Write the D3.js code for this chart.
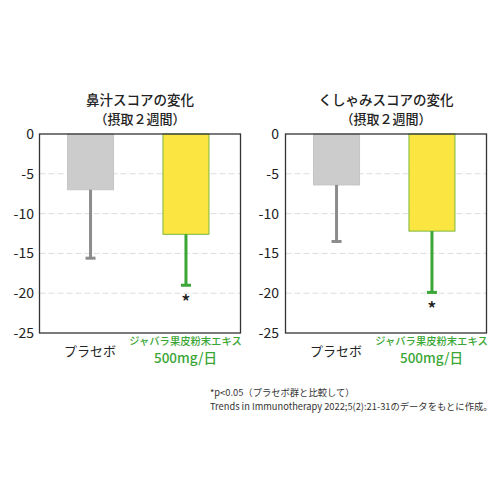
<!DOCTYPE html>
<html><head><meta charset="utf-8">
<script src="https://cdn.jsdelivr.net/npm/d3@7"></script>
<style>
html,body{margin:0;padding:0;background:#fff;}
text{font-family:"Noto Sans CJK JP","Noto Sans",sans-serif;}
</style></head>
<body><svg id="c" width="500" height="500"></svg>
<script>
const categories = ["プラセボ", "ジャバラ果皮粉末エキス"];
const doseLabel = "500mg/日";
const titles1 = ["鼻汁スコアの変化", "（摂取２週間）"];
const titles2 = ["くしゃみスコアの変化", "（摂取２週間）"];
const noseMeans = [-7.0, -12.6];
const noseErrors = [-15.6, -19.0];
const sneezeMeans = [-6.4, -12.2];
const sneezeErrors = [-13.5, -19.9];
const yTicks = [0, -5, -10, -15, -20, -25];
const significant = [false, true];
const footnotes = ["*p<0.05（プラセボ群と比較して）", "Trends in Immunotherapy 2022;5(2):21-31のデータをもとに作成。"];

const svg = d3.select("#c");
svg.append("rect").attr("width",500).attr("height",500).attr("fill","#fff");

const barFill = ["#cccccc", "#fbe641"];
const barStroke = ["#c4c4c4", "#7cb83c"];
const errColor = ["#8c8c8c", "#3aa635"];
const green = "#3aa635";

function panel(x0, x1, titles, means, errs, tickX) {
  const g = svg.append("g");
  const y = d3.scaleLinear().domain([0, -25]).range([134, 333]);
  const x = d3.scaleBand().domain(categories).range([x0 + 18, x0 + 178.5]).paddingInner(0.518).paddingOuter(0.1);
  // grid
  g.selectAll(".grid").data(yTicks.filter(t => t !== 0 && t !== -25)).enter().append("line")
    .attr("x1", x0).attr("x2", x1).attr("y1", d => y(d)).attr("y2", d => y(d))
    .attr("stroke", "#dcdcdc").attr("stroke-width", 1).attr("stroke-dasharray", "6,3");
  // bars
  g.selectAll(".bar").data(means).enter().append("rect")
    .attr("x", (d,i) => x(categories[i]) + 0.5).attr("width", x.bandwidth())
    .attr("y", y(0)).attr("height", d => y(d) - y(0))
    .attr("fill", (d,i) => barFill[i]).attr("stroke", (d,i) => barStroke[i]).attr("stroke-width", 1);
  // error bars
  errs.forEach((e, i) => {
    const cx = x(categories[i]) + x.bandwidth()/2 + 0.5;
    g.append("line").attr("x1", cx).attr("x2", cx).attr("y1", y(means[i])).attr("y2", y(e))
      .attr("stroke", errColor[i]).attr("stroke-width", 3);
    g.append("line").attr("x1", cx - 5).attr("x2", cx + 5).attr("y1", y(e)).attr("y2", y(e))
      .attr("stroke", errColor[i]).attr("stroke-width", 3);
    if (significant[i]) {
      g.append("text").attr("x", cx).attr("y", y(e) + 24).attr("text-anchor", "middle")
        .attr("font-size", 19).attr("font-weight", 500).attr("fill", "#222").text("*");
    }
  });
  // frame
  g.append("rect").attr("x", x0).attr("y", y(0)).attr("width", x1 - x0).attr("height", y(-25) - y(0))
    .attr("fill", "none").attr("stroke", "#333").attr("stroke-width", 1.3);
  // y ticks
  g.selectAll(".yt").data(yTicks).enter().append("text")
    .attr("x", tickX).attr("y", d => y(d) + 5).attr("text-anchor", "end")
    .attr("font-size", 14).attr("fill", "#222").text(d => d);
  // titles
  const cxT = (x0 + x1) / 2;
  g.append("text").attr("x", cxT).attr("y", 105).attr("text-anchor", "middle")
    .attr("font-size", 13.5).attr("font-weight", 500).attr("fill", "#222").text(titles[0]);
  g.append("text").attr("x", cxT).attr("y", 124).attr("text-anchor", "middle")
    .attr("font-size", 13).attr("font-weight", 500).attr("fill", "#222").text(titles[1]);
  // x labels
  const c0 = x(categories[0]) + x.bandwidth()/2;
  const c1 = x(categories[1]) + x.bandwidth()/2;
  g.append("text").attr("x", c0).attr("y", 356).attr("text-anchor", "middle")
    .attr("font-size", 13).attr("fill", "#222").text(categories[0]);
  g.append("text").attr("x", c1).attr("y", 345).attr("text-anchor", "middle")
    .attr("font-size", 10.3).attr("font-weight", 500).attr("fill", green).text(categories[1]);
  g.append("text").attr("x", c1).attr("y", 363).attr("text-anchor", "middle")
    .attr("font-size", 13.5).attr("font-weight", 500).attr("fill", green).text(doseLabel);
}

panel(39.5, 240.5, titles1, noseMeans, noseErrors, 34);
panel(285.5, 486.5, titles2, sneezeMeans, sneezeErrors, 279);

svg.append("text").attr("x", 210).attr("y", 396).attr("font-size", 9.3).attr("fill", "#333").text(footnotes[0]);
svg.append("text").attr("x", 210).attr("y", 410).attr("font-size", 9.3).attr("fill", "#333").text(footnotes[1]);
</script></body></html>
